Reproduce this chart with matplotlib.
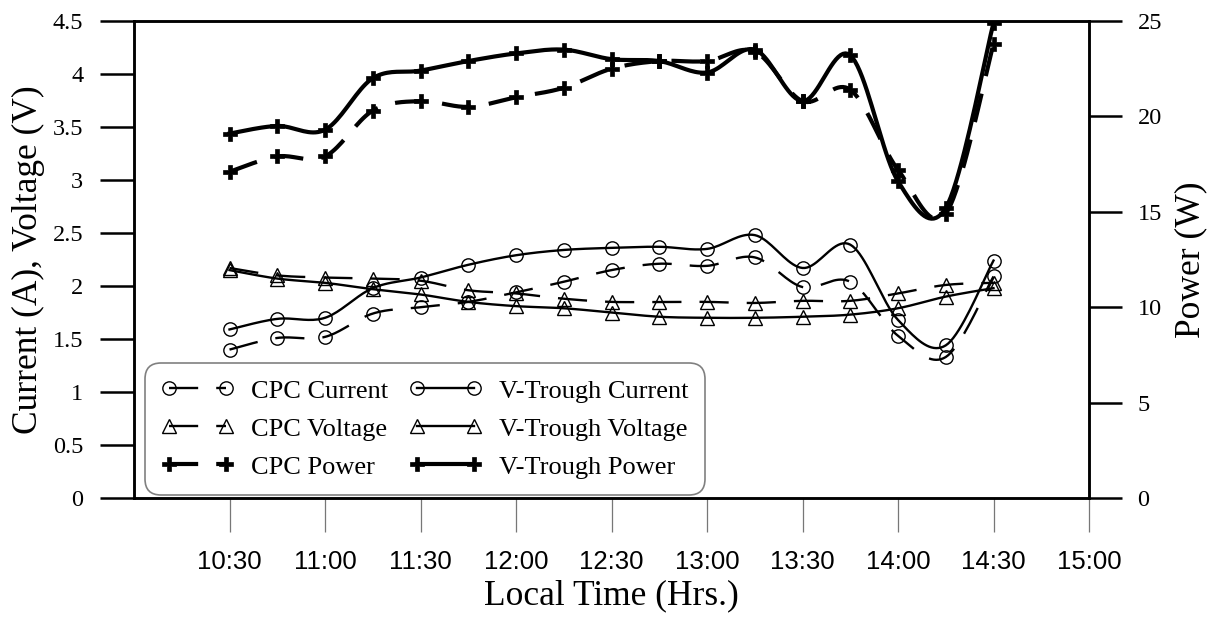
import numpy as np
import matplotlib
matplotlib.use("Agg")
import matplotlib.pyplot as plt
from matplotlib.lines import Line2D

plt.rcParams.update({
    'font.family': 'serif',
    'font.serif': ['Liberation Serif', 'DejaVu Serif'],
    'lines.scale_dashes': False,
    'axes.linewidth': 1.8,
})

# measured every 15 min, 10:30 - 14:30
times = ["10:30", "10:45", "11:00", "11:15", "11:30", "11:45", "12:00", "12:15", "12:30",
         "12:45", "13:00", "13:15", "13:30", "13:45", "14:00", "14:15", "14:30"]

cpc_current = [1.40, 1.51, 1.52, 1.74, 1.80, 1.85, 1.94, 2.04, 2.15,
               2.21, 2.19, 2.27, 1.99, 2.04, 1.53, 1.33, 2.09]
vt_current = [1.59, 1.69, 1.70, 1.98, 2.08, 2.20, 2.29, 2.34, 2.36,
              2.37, 2.35, 2.48, 2.17, 2.39, 1.68, 1.44, 2.24]
cpc_voltage = [2.17, 2.10, 2.08, 2.07, 2.05, 1.96, 1.93, 1.88, 1.85,
               1.85, 1.85, 1.84, 1.86, 1.86, 1.93, 2.01, 2.03]
vt_voltage = [2.15, 2.07, 2.03, 1.97, 1.92, 1.85, 1.81, 1.79, 1.75,
              1.71, 1.70, 1.70, 1.71, 1.73, 1.79, 1.90, 1.98]
cpc_power = [17.1, 17.9, 17.9, 20.3, 20.8, 20.5, 21.0, 21.5, 22.5,
             22.9, 22.9, 23.4, 20.8, 21.4, 17.2, 14.9, 23.8]
vt_power = [19.1, 19.5, 19.3, 22.0, 22.4, 22.9, 23.3, 23.5, 23.0,
            22.9, 22.3, 23.5, 20.8, 23.2, 16.6, 15.2, 24.9]

xtick_labels = ["10:30", "11:00", "11:30", "12:00", "12:30", "13:00", "13:30", "14:00", "14:30", "15:00"]


def to_hours(t):
    h, m = t.split(":")
    return int(h) + int(m) / 60.0


def smooth(x, y, n=20):
    """Catmull-Rom curve through the points (Excel style smoothed line)"""
    x = np.asarray(x, float)
    y = np.asarray(y, float)
    px = np.concatenate([[x[0]], x, [x[-1]]])
    py = np.concatenate([[y[0]], y, [y[-1]]])
    xs, ys = [], []
    t = np.linspace(0, 1, n, endpoint=False)
    for i in range(1, len(px) - 2):
        for p, out in ((px, xs), (py, ys)):
            p0, p1, p2, p3 = p[i - 1], p[i], p[i + 1], p[i + 2]
            out.append(0.5 * ((2 * p1) + (-p0 + p2) * t
                              + (2 * p0 - 5 * p1 + 4 * p2 - p3) * t ** 2
                              + (-p0 + 3 * p1 - 3 * p2 + p3) * t ** 3))
    xs.append([x[-1]])
    ys.append([y[-1]])
    return np.concatenate(xs), np.concatenate(ys)


x = np.array([to_hours(t) for t in times])

fig = plt.figure(figsize=(12.16, 6.23), dpi=100)
ax = fig.add_axes([134 / 1216, 1 - 498 / 623, 955 / 1216, 477 / 623])
ax2 = ax.twinx()

DASH = (21, 13)
thin = dict(color='black', lw=1.7)
thick = dict(color='black', lw=3.0)
circ = dict(marker='o', ms=9.6, mfc='none', mec='black', mew=1.0)
tri = dict(marker='^', ms=10, mfc='none', mec='black', mew=1.0)
plus = dict(marker='P', ms=10.5, mfc='black', mec='black', mew=0.5)


def draw(axis, y, line_kw, mk_kw, dashed):
    sx, sy = smooth(x, y)
    ln = axis.plot(sx, sy, **line_kw)[0]
    if dashed:
        ln.set_dashes(DASH)
    axis.plot(x, y, ls='none', **mk_kw)


draw(ax, cpc_current, thin, circ, True)
draw(ax, vt_current, thin, circ, False)
draw(ax, cpc_voltage, thin, tri, True)
draw(ax, vt_voltage, thin, tri, False)
draw(ax2, cpc_power, thick, plus, True)
draw(ax2, vt_power, thick, plus, False)

# left axis
ax.set_xlim(10.0, 15.0)
ax.set_ylim(0, 4.5)
ax.set_yticks(np.arange(0, 4.51, 0.5))
ax.set_yticklabels(["0", "0.5", "1", "1.5", "2", "2.5", "3", "3.5", "4", "4.5"])
ax.tick_params(axis='y', direction='out', length=24.5, width=1.8, pad=12, labelsize=17.5)
ax.set_xticks([to_hours(t) for t in xtick_labels])
ax.set_xticklabels(xtick_labels, fontfamily='Liberation Sans', fontsize=18.5)
ax.tick_params(axis='x', direction='out', length=24.5, width=0.9, color='#777777', pad=13)

# right axis
ax2.set_ylim(0, 25)
ax2.set_yticks(np.arange(0, 26, 5))
ax2.tick_params(axis='y', direction='out', length=24, width=1.8, pad=11, labelsize=17.5)
for sp in ax2.spines.values():
    sp.set_linewidth(1.8)

fig.text(28 / 1216, 1 - 259.5 / 623, "Current (A), Voltage (V)", rotation=90,
         ha='center', va='center', fontsize=25.5)
fig.text(1191 / 1216, 1 - 259.5 / 623, "Power (W)", rotation=90,
         ha='center', va='center', fontsize=25.5)
fig.text(611.5 / 1216, 1 - 596 / 623, "Local Time (Hrs.)",
         ha='center', va='center', fontsize=25.5)

# legend
def handle(mk_kw, line_kw, dashed):
    h = Line2D([], [], **line_kw, **mk_kw)
    if dashed:
        h.set_dashes(DASH)
    return h


handles = [handle(circ, thin, True), handle(tri, thin, True), handle(plus, thick, True),
           handle(circ, thin, False), handle(tri, thin, False), handle(plus, thick, False)]
labels = ["CPC Current", "CPC Voltage", "CPC Power",
          "V-Trough Current", "V-Trough Voltage", "V-Trough Power"]
leg = ax2.legend(handles, labels, ncol=2, loc='lower left',
                 bbox_to_anchor=(11 / 955, 3 / 477), borderaxespad=0,
                 fontsize=19, numpoints=2, handlelength=2.75, handletextpad=0.65,
                 columnspacing=0.8, labelspacing=0.55, borderpad=0.62,
                 frameon=True, fancybox=True, framealpha=1, edgecolor='#808080')
leg.get_frame().set_linewidth(1.2)
leg.get_frame().set_boxstyle("round,pad=0,rounding_size=0.6")

fig.savefig("out.png", dpi=100)
